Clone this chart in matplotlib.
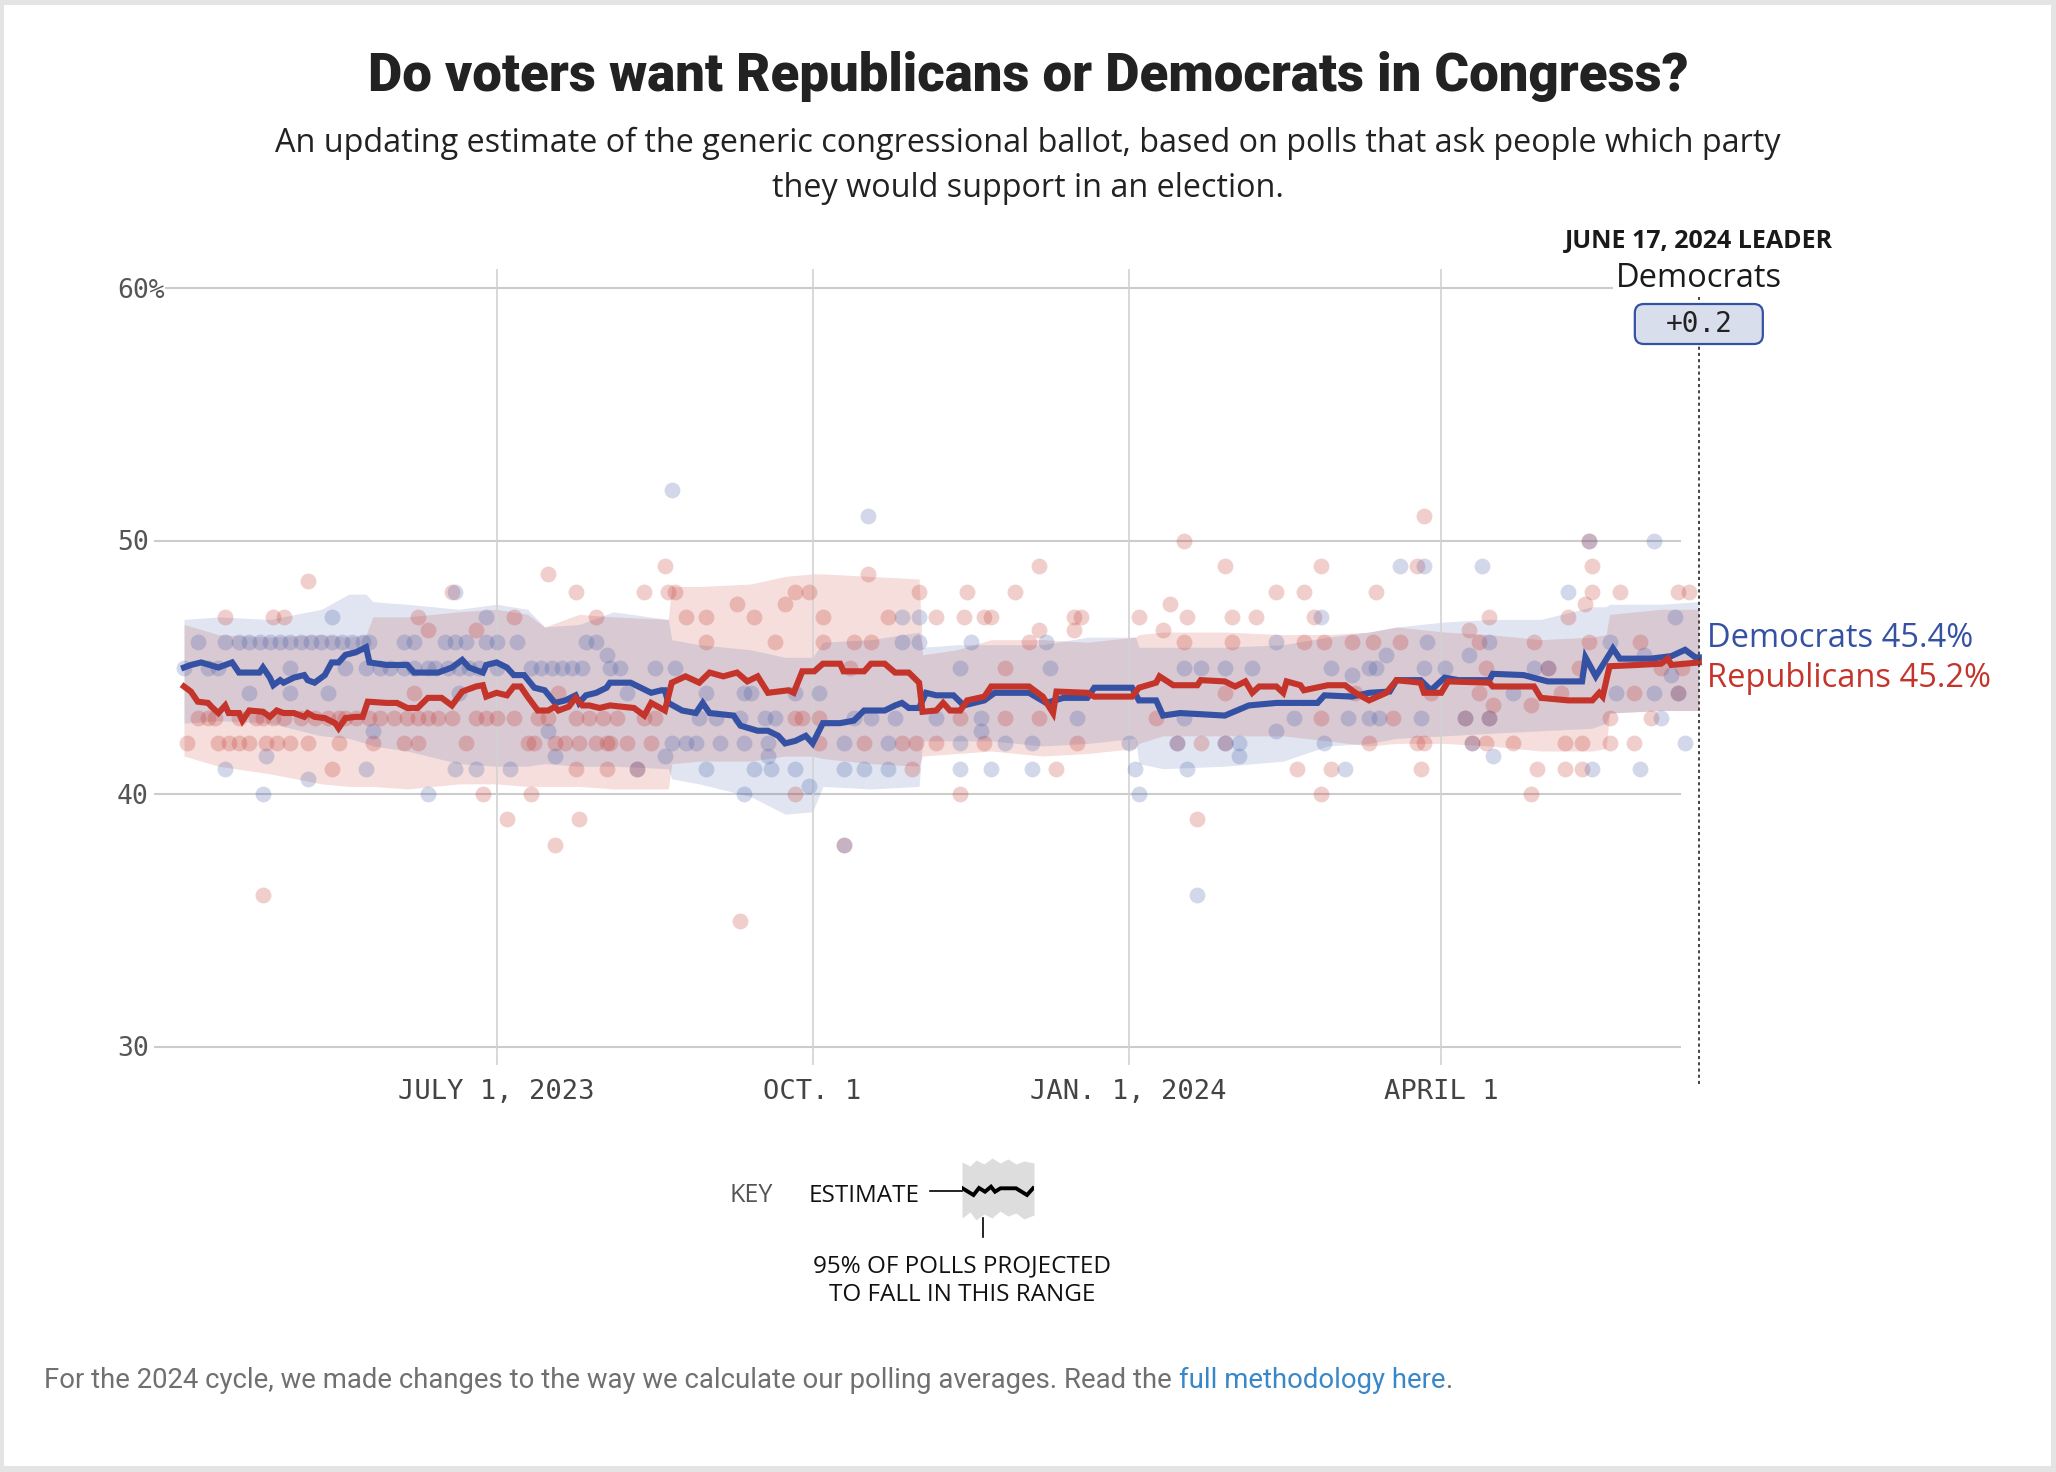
import numpy as np
import pandas as pd
import matplotlib
matplotlib.use("Agg")
import matplotlib.pyplot as plt
from matplotlib.patches import FancyBboxPatch, Rectangle
from matplotlib.transforms import IdentityTransform
from matplotlib import font_manager

# ---------------------------------------------------------------- data
START = pd.Timestamp("2023-04-01")   # day 0 of every "day" value below

# polling-average estimate, (day, percent)
dem_line = [(0, 45.0), (2, 45.1), (5, 45.2), (10, 45.0), (14, 45.2), (16, 44.8), (22, 44.8),
            (23, 45.0), (25, 44.6), (26, 44.3), (28, 44.5), (29, 44.4), (32, 44.6), (35, 44.7),
            (36, 44.5), (38, 44.4), (41, 44.7), (43, 45.2), (45, 45.2), (47, 45.5), (50, 45.6),
            (53, 45.8), (54, 45.2), (59, 45.1), (65, 45.1), (67, 44.8), (74, 44.8), (78, 45.0),
            (81, 45.3), (83, 45.0), (87, 44.8), (88, 45.1), (91, 45.2), (94, 45.0), (96, 44.7),
            (99, 44.7), (102, 44.2), (105, 44.1), (108, 43.6), (111, 43.7), (114, 43.9),
            (115, 43.6), (117, 43.9), (120, 44.0), (123, 44.2), (124, 44.4), (130, 44.4),
            (133, 44.2), (136, 44.0), (139, 44.1), (140, 44.1), (141, 43.6), (145, 43.3),
            (149, 43.2), (151, 43.6), (153, 43.2), (160, 43.1), (162, 42.7), (167, 42.5),
            (170, 42.5), (173, 42.3), (175, 42.0), (178, 42.1), (181, 42.3), (183, 42.0),
            (186, 42.8), (191, 42.8), (195, 42.9), (198, 43.3), (204, 43.3), (207, 43.5),
            (209, 43.6), (211, 43.4), (214, 43.4), (216, 44.0), (219, 43.9), (224, 43.9),
            (227, 43.5), (233, 43.7), (236, 44.0), (246, 44.0), (251, 43.6), (256, 43.8),
            (263, 43.8), (265, 44.2), (276, 44.2), (278, 43.7), (283, 43.7), (285, 43.1),
            (290, 43.2), (303, 43.1), (310, 43.5), (318, 43.6), (330, 43.6), (332, 43.9),
            (340, 43.85), (345, 44.0), (351, 44.05), (353, 44.5), (360, 44.5), (363, 44.1),
            (367, 44.6), (371, 44.5), (380, 44.5), (381, 44.75), (390, 44.7), (397, 44.45),
            (407, 44.45), (408, 45.4), (411, 44.65), (416, 45.75), (418, 45.35), (427, 45.35),
            (433, 45.45), (437, 45.7), (440, 45.4), (441, 45.4)]

rep_line = [(0, 44.25), (2, 44.05), (4, 43.65), (7, 43.6), (8, 43.45), (10, 43.2), (12, 43.5),
            (13, 43.2), (16, 43.2), (17, 42.9), (19, 43.3), (23, 43.25), (25, 43.05), (27, 43.3),
            (29, 43.2), (32, 43.2), (35, 43.05), (36, 43.2), (38, 43.05), (41, 43.0), (44, 42.8),
            (45, 42.6), (47, 43.0), (50, 43.05), (52, 43.05), (53.5, 43.65), (59, 43.6),
            (62, 43.6), (65, 43.4), (68, 43.4), (71, 43.8), (75, 43.8), (78, 43.5), (81, 44.05),
            (85, 44.25), (87, 44.3), (88, 43.85), (91, 44.0), (94, 43.9), (96, 44.25),
            (98, 44.25), (100, 43.85), (103, 43.3), (106, 43.3), (108, 43.45), (109, 43.3),
            (112, 43.45), (114, 43.8), (116, 43.5), (118, 43.5), (121, 43.4), (124, 43.5),
            (131, 43.4), (134, 43.1), (136, 43.6), (140, 43.3), (142, 44.4), (146, 44.65),
            (150, 44.4), (153, 44.8), (157, 44.65), (161, 44.8), (164, 44.45), (167, 44.65),
            (170, 44.0), (176, 44.1), (177.5, 44.0), (180, 44.85), (183.5, 44.85), (186, 45.15),
            (191, 45.15), (192, 44.85), (198, 44.85), (200, 45.15), (204, 45.15), (207, 44.8),
            (211, 44.8), (214, 44.4), (215, 43.25), (219, 43.3), (221, 43.6), (223, 43.3),
            (226, 43.3), (228, 43.7), (233, 43.85), (235, 44.25), (246, 44.25), (250, 43.85),
            (253, 43.2), (254, 44.05), (263, 44.0), (265, 43.85), (276, 43.85), (278, 44.2),
            (283, 44.4), (284, 44.65), (288, 44.3), (295, 44.3), (296, 44.5), (303, 44.45),
            (306, 44.25), (309, 44.45), (311, 44.0), (313, 44.25), (318, 44.25), (320, 44.0),
            (321, 44.45), (325, 44.3), (326, 44.1), (333, 44.3), (338, 44.3), (341, 44.0),
            (345, 43.7), (350, 44.0), (353, 44.5), (360, 44.4), (361, 44.0), (366, 44.0),
            (368, 44.45), (380, 44.4), (381, 44.25), (393, 44.25), (395, 43.8), (403, 43.7),
            (410, 43.7), (412, 44.0), (413, 43.85), (415, 45.05), (423, 45.1), (430, 45.15),
            (432, 45.35), (433, 45.1), (441, 45.2)]

# 95% ranges of projected polls
band_day = [0, 10, 25, 40, 48, 53, 55, 65, 80, 91, 100, 105, 115, 125, 141, 142, 150, 165,
            175, 183, 186, 200, 214, 215, 225, 235, 250, 263, 277, 278, 285, 303, 320, 333,
            345, 353, 367, 380, 395, 410, 414, 415, 430, 441]
dem_lo = [42.8, 42.9, 42.8, 42.3, 42.2, 42.0, 41.9, 41.7, 41.2, 41.1, 41.1, 41.2, 41.1, 41.1,
          41.0, 40.6, 40.4, 39.9, 39.2, 39.3, 40.3, 40.2, 40.3, 42.1, 42.1, 42.1, 41.9, 42.0,
          42.2, 41.2, 41.0, 41.1, 41.3, 41.9, 42.0, 42.2, 42.3, 42.4, 42.5, 42.6, 42.8, 43.2,
          43.3, 43.3]
dem_hi = [46.9, 47.0, 46.9, 47.3, 47.9, 47.9, 47.6, 47.5, 47.3, 47.5, 47.3, 46.6, 46.7, 47.2,
          46.9, 46.1, 45.9, 45.7, 45.4, 45.4, 46.0, 46.1, 46.4, 45.8, 45.9, 45.9, 45.9, 46.2,
          46.2, 45.8, 45.8, 45.8, 45.9, 46.2, 46.4, 46.6, 46.8, 46.9, 46.9, 47.4, 47.4, 47.5,
          47.5, 47.6]
rep_lo = [41.5, 41.1, 40.8, 40.4, 40.3, 40.3, 40.3, 40.2, 40.4, 40.4, 40.3, 40.3, 40.3, 40.2,
          40.2, 41.2, 41.3, 41.3, 41.5, 41.5, 41.4, 41.2, 41.1, 41.5, 41.6, 41.7, 41.5, 41.6,
          41.8, 42.0, 42.3, 42.3, 42.3, 42.1, 41.9, 42.0, 42.0, 41.9, 41.7, 41.7, 41.8, 43.2,
          43.3, 43.3]
rep_hi = [46.7, 46.3, 46.2, 46.3, 46.2, 46.3, 47.0, 47.0, 47.2, 47.3, 47.1, 46.6, 47.1, 47.0,
          46.9, 48.2, 48.2, 48.3, 48.6, 48.7, 48.7, 48.6, 48.5, 45.5, 45.7, 46.1, 46.1, 46.0,
          46.2, 46.3, 46.4, 46.4, 46.3, 46.3, 46.4, 46.6, 46.4, 46.3, 46.1, 46.2, 46.3, 47.1,
          47.3, 47.3]

# individual polls, (day, percent)
dem_polls = [(142, 52), (199, 51), (409, 50), (428, 50),
             (354, 49), (361, 49), (378, 49), (79, 48), (403, 48),
             (43, 47), (88, 47), (209, 47), (214, 47), (331, 47), (434, 47),
             (4, 46), (12, 46), (16, 46), (19, 46), (22, 46), (25, 46), (28, 46), (31, 46),
             (34, 46), (37, 46), (40, 46), (43, 46), (46, 46), (49, 46), (52, 46), (54, 46),
             (64, 46), (67, 46), (76, 46), (79, 46), (82, 46), (88, 46), (91, 46), (97, 46),
             (117, 46), (120, 46), (209, 46), (214, 46), (229, 46), (251, 46), (318, 46),
             (362, 46), (380, 46), (415, 46),
             (123, 45.5), (350, 45.5), (374, 45.5), (425, 45.5),
             (0, 45), (7, 45), (10, 45), (31, 45), (47, 45), (53, 45), (57, 45), (60, 45),
             (64, 45), (67, 45), (71, 45), (73, 45), (77, 45), (80, 45), (83, 45), (86, 45),
             (91, 45), (101, 45), (104, 45), (107, 45), (110, 45), (113, 45), (116, 45),
             (124, 45), (127, 45), (137, 45), (143, 45), (226, 45), (252, 45), (291, 45),
             (296, 45), (303, 45), (311, 45), (334, 45), (345, 45), (347, 45), (361, 45),
             (367, 45), (393, 45), (397, 45),
             (340, 44.7), (433, 44.7),
             (19, 44), (31, 44), (42, 44), (80, 44), (129, 44), (152, 44), (163, 44), (165, 44),
             (178, 44), (185, 44), (387, 44), (417, 44), (428, 44), (435, 44),
             (150, 43), (155, 43), (162, 43), (169, 43), (172, 43), (195, 43), (200, 43),
             (207, 43), (219, 43), (232, 43), (260, 43), (291, 43), (323, 43), (339, 43),
             (345, 43), (348, 43), (360, 43), (373, 43), (380, 43), (430, 43),
             (55, 42.5), (106, 42.5), (232, 42.5), (318, 42.5),
             (142, 42), (146, 42), (149, 42), (156, 42), (163, 42), (170, 42), (192, 42),
             (205, 42), (226, 42), (239, 42), (247, 42), (275, 42), (289, 42), (303, 42),
             (307, 42), (332, 42), (375, 42), (437, 42),
             (24, 41.5), (108, 41.5), (140, 41.5), (170, 41.5), (307, 41.5), (381, 41.5),
             (12, 41), (53, 41), (79, 41), (85, 41), (95, 41), (132, 41), (152, 41), (166, 41),
             (171, 41), (178, 41), (192, 41), (198, 41), (205, 41), (226, 41), (235, 41),
             (247, 41), (277, 41), (292, 41), (338, 41), (410, 41), (424, 41),
             (36, 40.6), (182, 40.3), (23, 40), (71, 40), (163, 40), (278, 40),
             (192, 38), (295, 36)]

rep_polls = [(361, 51), (291, 50), (409, 50),
             (140, 49), (249, 49), (303, 49), (331, 49), (359, 49), (410, 49),
             (106, 48.7), (199, 48.7), (36, 48.4),
             (78, 48), (114, 48), (134, 48), (141, 48), (143, 48), (178, 48), (182, 48),
             (214, 48), (228, 48), (242, 48), (318, 48), (326, 48), (347, 48), (410, 48),
             (418, 48), (435, 48), (438, 48),
             (161, 47.5), (175, 47.5), (287, 47.5), (408, 47.5),
             (12, 47), (26, 47), (29, 47), (68, 47), (96, 47), (120, 47), (146, 47), (152, 47),
             (166, 47), (186, 47), (205, 47), (219, 47), (227, 47), (233, 47), (235, 47),
             (259, 47), (261, 47), (278, 47), (292, 47), (305, 47), (312, 47), (329, 47),
             (380, 47), (403, 47),
             (71, 46.5), (85, 46.5), (249, 46.5), (259, 46.5), (285, 46.5), (374, 46.5),
             (152, 46), (172, 46), (186, 46), (195, 46), (200, 46), (246, 46), (291, 46),
             (305, 46), (326, 46), (332, 46), (340, 46), (346, 46), (354, 46), (377, 46),
             (393, 46), (409, 46), (424, 46),
             (194, 45), (239, 45), (379, 45), (397, 45), (406, 45), (430, 45), (436, 45),
             (67, 44), (109, 44), (303, 44), (341, 44), (363, 44), (377, 44), (401, 44),
             (422, 44), (435, 44),
             (381, 43.5), (392, 43.5),
             (4, 43), (7, 43), (9, 43), (16, 43), (21, 43), (23, 43), (26, 43), (29, 43),
             (34, 43), (38, 43), (42, 43), (45, 43), (47, 43), (50, 43), (54, 43), (57, 43),
             (61, 43), (65, 43), (68, 43), (71, 43), (74, 43), (78, 43), (85, 43), (88, 43),
             (91, 43), (96, 43), (103, 43), (106, 43), (114, 43), (118, 43), (122, 43),
             (126, 43), (134, 43), (137, 43), (178, 43), (180, 43), (185, 43), (226, 43),
             (239, 43), (249, 43), (283, 43), (331, 43), (352, 43), (373, 43), (380, 43),
             (415, 43), (427, 43),
             (1, 42), (10, 42), (13, 42), (16, 42), (19, 42), (24, 42), (27, 42), (31, 42),
             (36, 42), (45, 42), (55, 42), (64, 42), (68, 42), (82, 42), (100, 42), (102, 42),
             (108, 42), (111, 42), (115, 42), (120, 42), (123, 42), (124, 42), (129, 42),
             (136, 42), (185, 42), (198, 42), (209, 42), (213, 42), (219, 42), (233, 42),
             (260, 42), (289, 42), (296, 42), (303, 42), (345, 42), (359, 42), (361, 42),
             (375, 42), (379, 42), (387, 42), (402, 42), (407, 42), (415, 42), (422, 42),
             (43, 41), (114, 41), (123, 41), (132, 41), (212, 41), (254, 41), (324, 41),
             (334, 41), (360, 41), (394, 41), (402, 41), (407, 41),
             (87, 40), (101, 40), (178, 40), (226, 40), (331, 40), (392, 40),
             (94, 39), (115, 39), (295, 39), (108, 38), (192, 38), (23, 36), (162, 35)]

tick_dates = ["2023-07-01", "2023-10-01", "2024-01-01", "2024-04-01"]
tick_labels = ["JULY 1, 2023", "OCT. 1", "JAN. 1, 2024", "APRIL 1"]
y_ticks = [30, 40, 50, 60]
y_tick_labels = ["30", "40", "50", "60%"]
leader_day = 441
dem_final, rep_final = 45.4, 45.2
leader_margin = "+0.2"

# key icon (pixel units of the small icon)
key_x = [0, 8, 14, 22, 30, 38, 46, 54, 62, 72]
key_top = [4, 8, 2, 6, 0, 5, 1, 6, 3, 5]
key_bot = [60, 54, 62, 56, 60, 53, 58, 55, 61, 57]
key_line_x = [0, 11.5, 17, 23, 29, 33, 38.5, 54, 65, 71]
key_line_y = [30, 37, 30, 33.7, 28.7, 33.7, 30.3, 30.3, 37, 30.3]

# ---------------------------------------------------------------- style
avail = {f.name for f in font_manager.fontManager.ttflist}
def pick(*names):
    for n in names:
        if n in avail:
            return n
    return "DejaVu Sans"
SANS = pick("Open Sans", "Noto Sans", "DejaVu Sans")
HEAD = pick("Roboto", "Open Sans", "DejaVu Sans")
FOOT = pick("Roboto", "Open Sans", "DejaVu Sans")
MONO = pick("DejaVu Sans Mono")

DEM = "#3451a3"
REP = "#c4342a"

W, H = 2056, 1472
fig = plt.figure(figsize=(W / 100, H / 100), dpi=100)
fig.patch.set_facecolor("#e4e4e4")
fig.add_artist(Rectangle((4 / W, 6 / H), 1 - 9 / W, 1 - 11 / H, transform=fig.transFigure,
                         facecolor="white", edgecolor="none", zorder=-10))

def fx(px):
    return px / W
def fy(py):
    return 1 - py / H

# pixel mapping of the plot (layout)
X0PX, PXD = 184.0, 3.435          # px of day 0, px per day
Y40PX, PXP = 794.0, 25.3          # px of 40 %, px per point
XL, XR = -12, 460
YT_PX, YB_PX = 269, 1065
ylo = 40 - (YB_PX - Y40PX) / PXP
yhi = 40 + (Y40PX - YT_PX) / PXP
pxl, pxr = X0PX + PXD * XL, X0PX + PXD * XR
ax = fig.add_axes([pxl / W, 1 - YB_PX / H, (pxr - pxl) / W, (YB_PX - YT_PX) / H])
ax.set_xlim(XL, XR)
ax.set_ylim(ylo, yhi)
ax.set_facecolor("none")
for s in ax.spines.values():
    s.set_visible(False)

def dpx(day):      # x pixel of a day
    return X0PX + PXD * day
def day_of(px):
    return (px - X0PX) / PXD
def val_of(py):
    return 40 + (Y40PX - py) / PXP

# x ticks / vertical grid
tick_days = [(pd.Timestamp(d) - START).days for d in tick_dates]
ax.set_xticks(tick_days, tick_labels)
ax.set_yticks([])
ax.tick_params(axis="x", length=0, pad=10, labelsize=19.5, labelcolor="#444444")
for lbl in ax.get_xticklabels():
    lbl.set_fontfamily(MONO)
ax.grid(axis="x", color="#d2d2d2", lw=1.2, zorder=0)

# horizontal grid
for v, lab in zip(y_ticks, y_tick_labels):
    start = day_of(165) if lab.endswith("%") else day_of(154)
    end = day_of(1613) if lab.endswith("%") else day_of(1681)
    ax.hlines(v, start, end, color="#cccccc", lw=1.5, zorder=0)
    ax.text(day_of(117), v - 9.5 / PXP, lab, ha="left", va="baseline", fontsize=19,
            family=MONO, color="#555555")

# bands
ax.fill_between(band_day, rep_lo, rep_hi, color=REP, alpha=0.16, lw=0, zorder=1)
ax.fill_between(band_day, dem_lo, dem_hi, color=DEM, alpha=0.15, lw=0, zorder=1)

# polls
rd, rv = zip(*rep_polls)
dd, dv = zip(*dem_polls)
ax.scatter(rd, rv, s=130, color=REP, alpha=0.24, lw=0, zorder=2)
ax.scatter(dd, dv, s=130, color=DEM, alpha=0.22, lw=0, zorder=2)

# lines
rld, rlv = zip(*rep_line)
dld, dlv = zip(*dem_line)
ax.plot(dld, dlv, color=DEM, lw=4.4, zorder=4, solid_joinstyle="miter")
ax.plot(rld, rlv, color=REP, lw=4.4, zorder=5, solid_joinstyle="miter")

# leader marker
ax.plot([leader_day, leader_day], [val_of(1084), val_of(297)], color="#444444", lw=1.4,
        ls=(0, (1.6, 1.6)), clip_on=False, zorder=6)
lx = dpx(leader_day)
fig.text(fx(lx), fy(248), "JUNE 17, 2024 LEADER", ha="center", va="baseline", fontsize=18,
         fontweight="bold", family=SANS, color="#1a1a1a")
fig.text(fx(lx), fy(287), "Democrats", ha="center", va="baseline", fontsize=23.5,
         family=SANS, color="#1a1a1a")
box = FancyBboxPatch((lx - 64, H - 344), 128, 40, boxstyle="round,pad=0,rounding_size=9",
                     transform=IdentityTransform(), facecolor="#d9deed", edgecolor=DEM,
                     lw=1.6, zorder=20)
fig.add_artist(box)
fig.text(fx(lx), fy(324), leader_margin, ha="center", va="center", fontsize=20,
         family=MONO, color="#222222", zorder=21)

# end labels
ax.text(leader_day + 8 / PXD, val_of(647), f"Democrats {dem_final}%", ha="left",
        va="baseline", fontsize=23.5, family=SANS, color=DEM, clip_on=False)
ax.text(leader_day + 8 / PXD, val_of(687), f"Republicans {rep_final}%", ha="left",
        va="baseline", fontsize=23.5, family=SANS, color=REP, clip_on=False)

# titles
fig.text(fx(1028), fy(91), "Do voters want Republicans or Democrats in Congress?",
         ha="center", va="baseline", fontsize=38, fontweight=900, family=HEAD,
         color="#222222")
fig.text(fx(1028), fy(152), "An updating estimate of the generic congressional ballot, based on "
         "polls that ask people which party", ha="center", va="baseline", fontsize=23.3,
         family=SANS, color="#222222")
fig.text(fx(1028), fy(197), "they would support in an election.", ha="center",
         va="baseline", fontsize=23.3, family=SANS, color="#222222")

# key
fig.text(fx(729), fy(1202), "KEY", ha="left", va="baseline", fontsize=18, family=SANS,
         color="#555555")
fig.text(fx(809), fy(1202), "ESTIMATE", ha="left", va="baseline", fontsize=17.5, family=SANS,
         color="#111111")
kax = fig.add_axes([fx(962), fy(1226), 72 / W, 68 / H])
kax.set_xlim(0, 72)
kax.set_ylim(68, 0)
kax.axis("off")
kax.fill_between(key_x, key_top, key_bot, color="#dddddd", lw=0)
kax.plot(key_line_x, key_line_y, color="black", lw=2.8, solid_joinstyle="miter")
kax.plot([-32, 0], [33, 33], color="black", lw=1.2, clip_on=False)
kax.plot([21, 21], [60, 79], color="black", lw=1.2, clip_on=False)
fig.text(fx(962), fy(1272), "95% OF POLLS PROJECTED", ha="center", va="baseline",
         fontsize=17.5, family=SANS, color="#111111")
fig.text(fx(962), fy(1301), "TO FALL IN THIS RANGE", ha="center", va="baseline",
         fontsize=17.5, family=SANS, color="#111111")

# footer
renderer = fig.canvas.get_renderer()
t1 = fig.text(fx(44), fy(1388), "For the 2024 cycle, we made changes to the way we calculate "
              "our polling averages. Read the ", ha="left", va="baseline", fontsize=19.8,
              family=FOOT, color="#707070")
x1 = t1.get_window_extent(renderer).x1
t2 = fig.text(x1 / W, fy(1388), "full methodology here", ha="left", va="baseline",
              fontsize=19.8, family=FOOT, color="#3a87c8")
x2 = t2.get_window_extent(renderer).x1
fig.text(x2 / W, fy(1388), ".", ha="left", va="baseline", fontsize=19.8, family=FOOT,
         color="#707070")

fig.savefig("out.png", dpi=100, facecolor=fig.get_facecolor())
